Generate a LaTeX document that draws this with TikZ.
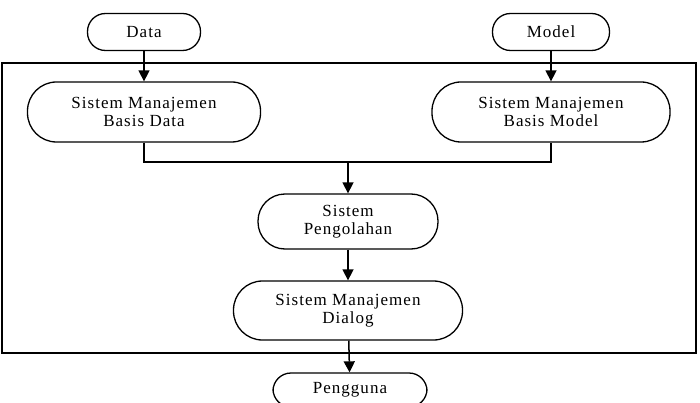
\documentclass[tikz,border=0pt]{standalone}
\usepackage{fontspec}
\setmainfont{Liberation Serif}[LetterSpace=6]
\usetikzlibrary{arrows.meta}
\begin{document}
\begin{tikzpicture}[x=1pt,y=-1pt,
  term/.style={draw, line width=1.3pt, rounded corners=#1, align=center,
    font=\fontsize{17}{18}\selectfont, inner sep=0pt},
  term/.default=18pt,
  link/.style={line width=1.5pt},
  arr/.style={link, -{Triangle[width=11pt,length=11pt]}}]
  \useasboundingbox (0,0) rectangle (700,403);
  % outer system boundary
  \node[draw, line width=1.3pt, minimum width=694pt, minimum height=290pt,
        inner sep=0pt] (frame) at (349,208) {};
  % inputs
  \node[term, minimum width=113pt, minimum height=37pt] (data) at (144,32) {Data};
  \node[term, minimum width=117pt, minimum height=37pt] (model) at (551,32) {Model};
  % subsystems
  \node[term=29pt, minimum width=233pt, minimum height=60pt] (smbd) at (144,112)
    {Sistem Manajemen\\Basis Data};
  \node[term=29pt, minimum width=238pt, minimum height=60pt] (smbm) at (551,112)
    {Sistem Manajemen\\Basis Model};
  \node[term=27pt, minimum width=180pt, minimum height=55pt] (sp) at (348,221.5)
    {Sistem\\Pengolahan};
  \node[term=29pt, minimum width=229pt, minimum height=59pt] (smd) at (348,310.5)
    {Sistem Manajemen\\Dialog};
  % output
  \node[term, minimum width=154pt, minimum height=34pt] (user) at (350,390)
    {Pengguna};
  \coordinate (join) at (348,162);
  % connectors
  \draw[arr] (data) -- (smbd);
  \draw[arr] (model) -- (smbm);
  \draw[link] (smbd.south) |- (join) -| (smbm.south);
  \draw[arr] (join) -- (sp);
  \draw[arr] (sp) -- (smd);
  \draw[arr] (smd) -- (user);
\end{tikzpicture}
\end{document}
